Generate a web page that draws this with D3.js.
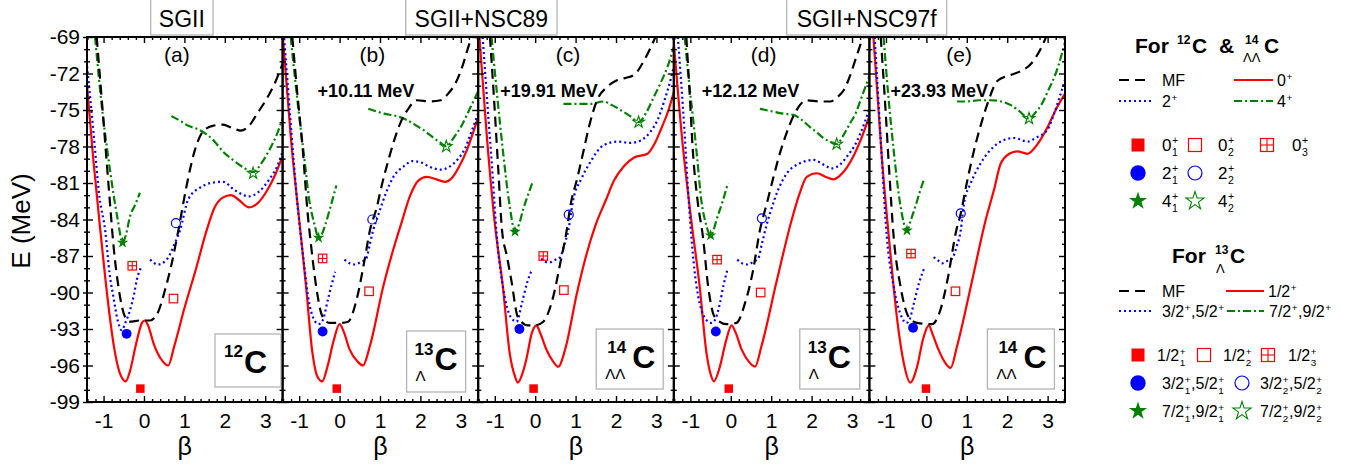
<!DOCTYPE html>
<html>
<head>
<meta charset="utf-8">
<script src="https://cdn.jsdelivr.net/npm/d3@7"></script>
<style>
  body { margin: 0; background: #fff; }
  svg { display: block; font-family: "Liberation Sans", Arial, sans-serif; }
</style>
</head>
<body>
<div id="chart"></div>
<script>
// ---- data ----
var betaTicks = [-1, 0, 1, 2, 3];
var energyTicks = [-99, -96, -93, -90, -87, -84, -81, -78, -75, -72, -69];
var panelTags = ["(a)", "(b)", "(c)", "(d)", "(e)"];
var shiftLabels = ["", "+10.11 MeV", "+19.91 MeV", "+12.12 MeV", "+23.93 MeV"];
var nucleusMass = ["12", "13", "14", "13", "14"];
var nucleusHyp = ["", "Λ", "ΛΛ", "Λ", "ΛΛ"];
var interactionNames = ["SGII", "SGII+NSC89", "SGII+NSC97f"];

// MF (black dashed)
var mfA = [[-1.17,-69],[-1.0,-76],[-0.85,-82.3],[-0.75,-86.3],[-0.62,-89.8],[-0.47,-92.0],[-0.35,-92.4],[-0.1,-92.3],[0.15,-92.3],[0.35,-91.6],[0.52,-89.8],[0.68,-87.7],[0.85,-84.9],[1.05,-81.3],[1.25,-78.4],[1.45,-76.8],[1.7,-76.3],[1.95,-76.2],[2.2,-76.5],[2.4,-76.7],[2.6,-76.3],[2.8,-75.3],[3.05,-74.0],[3.25,-72.7],[3.45,-71.0]];
var mfB = [[-1.17,-69],[-1.05,-73.5],[-0.91,-78.3],[-0.79,-83.5],[-0.71,-86.0],[-0.58,-89.5],[-0.42,-92.0],[-0.25,-92.5],[0.0,-92.5],[0.21,-92.4],[0.42,-90.6],[0.62,-87.3],[0.75,-84.9],[0.92,-83.0],[1.05,-81.1],[1.21,-79.1],[1.35,-77.5],[1.5,-76.1],[1.7,-74.9],[1.91,-74.2],[2.25,-74.3],[2.5,-74.2],[2.7,-73.6],[2.87,-72.8],[3.05,-71.3],[3.16,-70.1],[3.3,-68.6]];
var mfC = [[-1.12,-69],[-1.02,-74],[-0.92,-79.5],[-0.82,-84.9],[-0.7,-87.0],[-0.59,-89.0],[-0.43,-92.0],[-0.18,-92.7],[0.0,-92.7],[0.2,-92.4],[0.45,-90.3],[0.62,-87.6],[0.78,-84.9],[0.87,-82.9],[1.05,-80.5],[1.2,-78.3],[1.36,-76.0],[1.53,-74.2],[1.78,-73.1],[2.0,-72.6],[2.2,-72.4],[2.45,-72.1],[2.7,-70.9],[2.95,-69.2],[3.02,-68.7]];
var mfD = [[-1.1,-69],[-1.02,-73.5],[-0.94,-78.3],[-0.82,-82.5],[-0.69,-85.4],[-0.56,-89.5],[-0.4,-92.0],[-0.11,-92.6],[0.14,-92.5],[0.35,-90.9],[0.55,-88.2],[0.72,-84.9],[0.89,-82.7],[1.05,-80.6],[1.22,-78.5],[1.38,-76.9],[1.55,-75.5],[1.88,-74.2],[2.2,-74.3],[2.46,-74.3],[2.65,-73.9],[2.79,-73.4],[2.95,-72.2],[3.08,-70.9],[3.25,-69.2],[3.3,-68.7]];
var mfE = [[-1.13,-69],[-1.02,-74.5],[-0.92,-80],[-0.81,-85.4],[-0.64,-89.5],[-0.44,-92.0],[-0.23,-92.5],[0.14,-92.6],[0.35,-91.4],[0.52,-89.0],[0.74,-84.9],[0.85,-83.5],[1.0,-81.0],[1.18,-78.3],[1.35,-76.2],[1.51,-74.5],[1.76,-72.6],[2.1,-72.1],[2.34,-71.8],[2.59,-71.2],[2.84,-69.9],[3.0,-68.7]];

// 0+ / 1/2+ (red solid)
var j0A = [[-1.42,-72.6],[-1.25,-79.2],[-1.08,-84.9],[-0.9,-90.5],[-0.75,-94.3],[-0.6,-96.6],[-0.45,-97.3],[-0.35,-96.5],[-0.2,-94.3],[-0.05,-92.5],[0.02,-92.3],[0.1,-92.7],[0.25,-94.3],[0.45,-95.6],[0.6,-96.0],[0.75,-94.4],[1.0,-91.3],[1.3,-87.9],[1.55,-84.9],[1.75,-83.0],[1.95,-82.2],[2.15,-82.0],[2.35,-82.4],[2.6,-83.0],[2.8,-82.7],[3.05,-81.6],[3.25,-80.3],[3.45,-78.6]];
var j0B = [[-1.41,-68.8],[-1.2,-77.5],[-1.0,-84.0],[-0.83,-89.5],[-0.67,-95.0],[-0.55,-96.9],[-0.43,-97.3],[-0.3,-96.1],[-0.15,-94.0],[0.0,-92.6],[0.1,-93.2],[0.25,-94.7],[0.45,-95.7],[0.58,-96.0],[0.75,-94.4],[1.08,-89.5],[1.3,-86.8],[1.52,-84.4],[1.75,-82.0],[1.95,-80.8],[2.16,-80.5],[2.4,-80.7],[2.6,-80.9],[2.8,-80.5],[2.95,-79.7],[3.15,-78.3],[3.3,-76.9],[3.46,-75.3]];
var j0C = [[-1.38,-69],[-1.2,-77],[-1.01,-84.0],[-0.8,-89.5],[-0.63,-95.0],[-0.5,-96.9],[-0.43,-97.4],[-0.3,-96.5],[-0.22,-95.5],[-0.08,-93.3],[0.03,-92.7],[0.12,-93.3],[0.28,-94.7],[0.45,-95.7],[0.57,-96.1],[0.74,-94.7],[1.03,-90.1],[1.25,-87.1],[1.5,-84.4],[1.75,-82.4],[1.95,-80.8],[2.2,-79.6],[2.45,-78.9],[2.78,-78.6],[2.95,-77.8],[3.11,-76.6],[3.3,-75.0],[3.45,-73.3]];
var j0D = [[-1.42,-69],[-1.2,-77.5],[-0.98,-84.0],[-0.77,-89.5],[-0.6,-95.0],[-0.5,-96.7],[-0.42,-97.3],[-0.27,-96.1],[-0.12,-94.0],[0.02,-92.7],[0.12,-93.3],[0.27,-94.7],[0.45,-95.7],[0.6,-96.1],[0.76,-94.4],[1.14,-89.0],[1.51,-84.0],[1.7,-81.9],[1.88,-80.5],[2.13,-80.2],[2.35,-80.5],[2.54,-80.7],[2.7,-80.4],[2.88,-79.7],[3.05,-78.7],[3.21,-77.5],[3.44,-75.4]];
var j0E = [[-1.31,-69],[-1.1,-79],[-0.89,-86.8],[-0.72,-92.3],[-0.56,-95.8],[-0.4,-97.4],[-0.23,-96.1],[-0.08,-93.8],[0.06,-92.7],[0.15,-93.4],[0.3,-94.7],[0.45,-95.7],[0.6,-96.2],[0.76,-94.4],[1.1,-89.5],[1.47,-84.0],[1.67,-81.6],[1.84,-79.4],[2.05,-78.6],[2.25,-78.4],[2.5,-78.6],[2.75,-77.8],[3.0,-76.4],[3.2,-75.0],[3.46,-73.5]];

// 2+ / 3/2+,5/2+ (blue dotted), two branches
var j2A = [
  [[-1.42,-71.0],[-1.25,-76.8],[-1.1,-82.2],[-0.96,-84.9],[-0.85,-88.5],[-0.76,-90.3],[-0.65,-92.3],[-0.55,-93.1],[-0.45,-92.4],[-0.35,-91.5],[-0.25,-90.2],[-0.18,-89.0],[-0.07,-87.9]],
  [[0.15,-87.3],[0.35,-87.7],[0.56,-87.3],[0.77,-85.9],[0.89,-84.9],[1.1,-82.3],[1.38,-81.4],[1.65,-81.0],[1.95,-80.9],[2.25,-81.6],[2.6,-82.1],[2.85,-81.7],[3.1,-80.7],[3.3,-79.6],[3.45,-78.2]]
];
var j2B = [
  [[-1.37,-69.1],[-1.2,-76.5],[-1.05,-82.5],[-0.91,-86.8],[-0.75,-90.9],[-0.62,-92.3],[-0.52,-92.6],[-0.42,-92.3],[-0.29,-90.6],[-0.2,-89.4],[-0.11,-88.3]],
  [[0.12,-87.3],[0.25,-87.6],[0.37,-87.7],[0.52,-87.5],[0.66,-87.2],[0.75,-86.0],[0.83,-84.9],[0.96,-83.6],[1.15,-81.8],[1.33,-80.5],[1.6,-79.6],[1.8,-79.2],[2.0,-79.3],[2.25,-79.7],[2.5,-79.9],[2.7,-79.7],[2.91,-79.1],[3.1,-78.2],[3.25,-76.9],[3.46,-75.0]]
];
var j2C = [
  [[-1.3,-69],[-1.15,-76],[-1.05,-80.5],[-0.96,-85.0],[-0.8,-89.5],[-0.69,-91.3],[-0.59,-92.1],[-0.46,-92.4],[-0.33,-90.9],[-0.2,-89.2],[-0.09,-88.2]],
  [[0.15,-87.2],[0.27,-87.5],[0.37,-87.5],[0.5,-87.3],[0.62,-87.1],[0.72,-86.1],[0.82,-84.9],[0.94,-82.4],[1.15,-80.6],[1.36,-79.3],[1.69,-77.9],[2.03,-77.6],[2.36,-77.7],[2.61,-77.5],[2.85,-76.8],[3.03,-75.8],[3.2,-74.2],[3.36,-72.4],[3.45,-71.2]]
];
var j2D = [
  [[-1.31,-69],[-1.15,-76.5],[-1.04,-82.5],[-0.94,-86.8],[-0.77,-90.9],[-0.56,-92.4],[-0.48,-92.5],[-0.4,-92.3],[-0.27,-90.9],[-0.18,-89.4],[-0.09,-88.2]],
  [[0.16,-87.3],[0.28,-87.6],[0.41,-87.7],[0.55,-87.5],[0.68,-87.2],[0.77,-86.0],[0.85,-84.9],[0.97,-83.5],[1.18,-81.5],[1.39,-80.2],[1.7,-79.4],[2.05,-79.1],[2.3,-79.5],[2.5,-79.8],[2.7,-79.5],[2.88,-78.8],[3.05,-78.0],[3.21,-76.9],[3.44,-74.8]]
];
var j2E = [
  [[-1.28,-69],[-1.12,-78],[-0.98,-85.4],[-0.81,-89.5],[-0.6,-92.1],[-0.5,-92.5],[-0.44,-92.4],[-0.31,-90.9],[-0.18,-89.2],[-0.04,-87.9]],
  [[0.18,-87.1],[0.3,-87.4],[0.39,-87.6],[0.52,-87.4],[0.64,-87.2],[0.75,-86.2],[0.85,-84.9],[0.93,-82.7],[1.1,-81.0],[1.34,-79.4],[1.67,-78.0],[1.9,-77.5],[2.17,-77.3],[2.5,-77.6],[2.7,-77.3],[3.0,-76.6],[3.15,-75.4],[3.3,-73.9],[3.45,-72.3]]
];

// 4+ / 7/2+,9/2+ (green dash-dot), two branches
var j4A = [
  [[-1.21,-69],[-1.05,-74.5],[-0.9,-78.5],[-0.76,-81.8],[-0.65,-84.0],[-0.53,-85.9],[-0.45,-85.3],[-0.35,-83.8],[-0.22,-82.8],[-0.1,-81.8]],
  [[0.68,-75.5],[0.9,-75.9],[1.1,-76.3],[1.35,-76.6],[1.55,-77.0],[1.75,-77.6],[1.95,-78.4],[2.2,-79.1],[2.45,-79.7],[2.7,-80.1],[2.9,-79.4],[3.1,-78.3],[3.3,-76.9],[3.45,-75.5]]
];
var j4B = [
  [[-1.21,-69],[-1.1,-72.5],[-1.0,-75.5],[-0.87,-79],[-0.75,-82.4],[-0.62,-84.4],[-0.52,-85.5],[-0.45,-85.3],[-0.37,-84.6],[-0.22,-82.9],[-0.08,-81.2]],
  [[0.71,-74.9],[0.9,-75.1],[1.1,-75.3],[1.41,-75.5],[1.65,-75.8],[1.91,-76.3],[2.1,-76.7],[2.33,-77.3],[2.5,-77.7],[2.64,-78.0],[2.82,-77.3],[3.0,-76.4],[3.25,-74.7],[3.45,-73.3]]
];
var j4C = [
  [[-1.08,-69],[-0.95,-73.5],[-0.8,-78.3],[-0.63,-82.9],[-0.5,-85.0],[-0.4,-84.4],[-0.3,-83.2],[-0.18,-82.0],[-0.05,-80.8]],
  [[0.7,-74.5],[1.0,-74.5],[1.36,-74.5],[1.69,-74.3],[1.9,-74.6],[2.11,-75.0],[2.35,-75.5],[2.56,-76.0],[2.75,-75.2],[2.94,-73.9],[3.1,-72.8],[3.28,-71.4],[3.44,-69.7]]
];
var j4D = [
  [[-1.14,-69],[-1.04,-72.5],[-0.94,-75.5],[-0.83,-79],[-0.73,-82.4],[-0.62,-84.3],[-0.5,-85.3],[-0.42,-84.8],[-0.35,-84.0],[-0.2,-82.5],[-0.07,-81.0]],
  [[0.72,-74.9],[1.0,-75.1],[1.3,-75.3],[1.55,-75.4],[1.75,-75.8],[1.96,-76.4],[2.15,-76.9],[2.29,-77.3],[2.45,-77.6],[2.62,-77.8],[2.8,-77.0],[2.95,-76.1],[3.1,-75.2],[3.21,-74.2],[3.44,-72.1]]
];
var j4E = [
  [[-1.06,-69],[-0.95,-73.5],[-0.81,-78.3],[-0.64,-82.9],[-0.48,-84.9],[-0.38,-84.0],[-0.27,-82.9],[-0.17,-81.8],[-0.07,-80.8]],
  [[0.76,-74.3],[1.0,-74.3],[1.3,-74.2],[1.59,-74.2],[1.85,-74.3],[2.09,-74.6],[2.3,-75.1],[2.54,-75.7],[2.7,-75.2],[2.84,-74.6],[3.0,-73.5],[3.2,-72.0],[3.45,-69.2]]
];

// GCM states: [type, beta, E]
var statesA = [["sq1",-0.09,-97.9],["sq2",0.73,-90.5],["sq3",-0.29,-87.8],["c1",-0.43,-93.4],["c2",0.79,-84.3],["s1",-0.53,-85.9],["s2",2.70,-80.2]];
var statesB = [["sq1",-0.07,-97.9],["sq2",0.73,-89.9],["sq3",-0.42,-87.2],["c1",-0.42,-93.2],["c2",0.81,-84.0],["s1",-0.52,-85.5],["s2",2.64,-78.0]];
var statesC = [["sq1",-0.04,-97.9],["sq2",0.71,-89.8],["sq3",0.20,-87.0],["c1",-0.39,-93.0],["c2",0.83,-83.6],["s1",-0.50,-85.0],["s2",2.56,-76.0]];
var statesD = [["sq1",-0.05,-97.9],["sq2",0.74,-90.0],["sq3",-0.34,-87.3],["c1",-0.37,-93.2],["c2",0.77,-83.9],["s1",-0.50,-85.3],["s2",2.62,-77.8]];
var statesE = [["sq1",-0.01,-97.9],["sq2",0.72,-89.9],["sq3",-0.38,-86.8],["c1",-0.33,-92.9],["c2",0.85,-83.5],["s1",-0.48,-84.9],["s2",2.54,-75.7]];

var mfCurves = [mfA, mfB, mfC, mfD, mfE];
var j0Curves = [j0A, j0B, j0C, j0D, j0E];
var j2Curves = [j2A, j2B, j2C, j2D, j2E];
var j4Curves = [j4A, j4B, j4C, j4D, j4E];
var stateSets = [statesA, statesB, statesC, statesD, statesE];

// legend texts
var legendLines1 = [["MF"], ["0", {sup: "+"}], ["2", {sup: "+"}], ["4", {sup: "+"}]];
var legendLines2 = [["MF"], ["1/2", {sup: "+"}], ["3/2", {sup: "+"}, ",5/2", {sup: "+"}], ["7/2", {sup: "+"}, ",9/2", {sup: "+"}]];
var stateTypes = ["sq1", "sq2", "sq3", "c1", "c2", "s1", "s2"];
var stateLabels1 = [["0", {sup: "+", sub: "1"}], ["0", {sup: "+", sub: "2"}], ["0", {sup: "+", sub: "3"}],
  ["2", {sup: "+", sub: "1"}], ["2", {sup: "+", sub: "2"}], ["4", {sup: "+", sub: "1"}], ["4", {sup: "+", sub: "2"}]];
var stateLabels2 = [["1/2", {sup: "+", sub: "1"}], ["1/2", {sup: "+", sub: "2"}], ["1/2", {sup: "+", sub: "3"}],
  ["3/2", {sup: "+", sub: "1"}, ",5/2", {sup: "+", sub: "1"}], ["3/2", {sup: "+", sub: "2"}, ",5/2", {sup: "+", sub: "2"}],
  ["7/2", {sup: "+", sub: "1"}, ",9/2", {sup: "+", sub: "1"}], ["7/2", {sup: "+", sub: "2"}, ",9/2", {sup: "+", sub: "2"}]];

// ---- layout ----
var svgWidth = 1356;
var svgHeight = 469;
var plotTop = 37, plotBottom = 402;
var panelLeft0 = 87, panelWidth = 195.6;
var RED = "#ff0000", BLUE = "#0000ff", GREEN = "#008000";

var styles = {
  mf: {color: "#000", dash: "10,6", width: 2.2},
  j0: {color: RED, dash: null, width: 2.2},
  j2: {color: BLUE, dash: "2,3", width: 2.2},
  j4: {color: GREEN, dash: "8,3,2,3", width: 2.2}
};

// box of the nucleus label, relative to each panel: [dx, top, w, h]
var nucleusBoxes = [[128, 334, 66, 53], [124, 331, 59, 61], [118, 329, 67, 60], [126, 329, 60, 60], [118, 329, 67, 60]];
var shiftOffsets = [0, 35, 22, 28, 21];

var svg = d3.select("#chart").append("svg")
  .attr("width", svgWidth)
  .attr("height", svgHeight);

var yScale = d3.scaleLinear().domain([-99, -69]).range([plotBottom, plotTop]);

function richText(g, x, y, parts, size, weight) {
  var cx = x;
  parts.forEach(function(p) {
    if (typeof p === "string") {
      var t = g.append("text").attr("x", cx).attr("y", y)
        .style("font-size", size + "px").style("font-weight", weight || "normal").text(p);
      cx += t.node().getComputedTextLength();
    } else {
      var w = 0;
      var ss = size * 0.62;
      if (p.sup) {
        var t1 = g.append("text").attr("x", cx + 0.5).attr("y", y - size * 0.4)
          .style("font-size", ss + "px").text(p.sup);
        w = Math.max(w, t1.node().getComputedTextLength());
      }
      if (p.sub) {
        var t2 = g.append("text").attr("x", cx + 0.5).attr("y", y + size * 0.3)
          .style("font-size", ss + "px").text(p.sub);
        w = Math.max(w, t2.node().getComputedTextLength());
      }
      cx += w + 1;
    }
  });
  return cx;
}

function drawState(g, type, cx, cy, s) {
  if (type.indexOf("sq") === 0) {
    var filled = type === "sq1";
    g.append("rect")
      .attr("x", cx - s / 2).attr("y", cy - s / 2)
      .attr("width", s).attr("height", s)
      .attr("fill", filled ? RED : "none")
      .attr("stroke", filled ? "none" : RED)
      .attr("stroke-width", 1.2);
    if (type === "sq3") {
      g.append("line").attr("x1", cx - s / 2).attr("x2", cx + s / 2).attr("y1", cy).attr("y2", cy)
        .attr("stroke", RED).attr("stroke-width", 1.1);
      g.append("line").attr("x1", cx).attr("x2", cx).attr("y1", cy - s / 2).attr("y2", cy + s / 2)
        .attr("stroke", RED).attr("stroke-width", 1.1);
    }
  } else if (type.indexOf("c") === 0) {
    var fc = type === "c1";
    g.append("circle").attr("cx", cx).attr("cy", cy)
      .attr("r", fc ? s * 0.55 : s * 0.5)
      .attr("fill", fc ? BLUE : "none")
      .attr("stroke", BLUE)
      .attr("stroke-width", fc ? 0 : 1.2);
  } else {
    var fs = type === "s1";
    var R = s * 0.68;
    g.append("path")
      .attr("transform", "translate(" + cx + "," + cy + ")")
      .attr("d", d3.symbol(d3.symbolStar, R * R / 0.8908)())
      .attr("fill", fs ? GREEN : "none")
      .attr("stroke", GREEN)
      .attr("stroke-width", fs ? 0 : 1.1);
  }
}

// ---- panels ----
mfCurves.forEach(function(mf, i) {
  var left = panelLeft0 + i * panelWidth;
  var right = left + panelWidth;
  var xScale = d3.scaleLinear().domain([-1.41, 3.43]).range([left, right]);
  var g = svg.append("g");

  var clipId = "clip" + i;
  svg.append("clipPath").attr("id", clipId).append("rect")
    .attr("x", left).attr("y", plotTop).attr("width", panelWidth).attr("height", plotBottom - plotTop);

  var line = d3.line()
    .x(function(d) { return xScale(d[0]); })
    .y(function(d) { return yScale(d[1]); })
    .curve(d3.curveMonotoneX);

  var curves = g.append("g").attr("clip-path", "url(#" + clipId + ")");

  function addPath(data, st) {
    curves.append("path")
      .attr("d", line(data))
      .attr("fill", "none")
      .attr("stroke", st.color)
      .attr("stroke-width", st.width)
      .attr("stroke-dasharray", st.dash);
  }
  addPath(j0Curves[i], styles.j0);
  j2Curves[i].forEach(function(b) { addPath(b, styles.j2); });
  j4Curves[i].forEach(function(b) { addPath(b, styles.j4); });
  addPath(mf, styles.mf);

  stateSets[i].forEach(function(st) {
    var sz = st[0].indexOf("sq") === 0 ? 8.5 : 9;
    drawState(g, st[0], xScale(st[1]), yScale(st[2]), sz);
  });

  // axes
  var minorX = d3.range(-1.4, 3.41, 0.2).map(function(v) { return +v.toFixed(1); })
    .filter(function(v) { return betaTicks.indexOf(v) < 0; });
  var minorY = d3.range(-99, -68, 1).filter(function(v) { return energyTicks.indexOf(v) < 0; });

  g.append("g").attr("transform", "translate(0," + plotBottom + ")")
    .call(d3.axisBottom(xScale).tickValues(betaTicks).tickSizeInner(-6).tickSizeOuter(0).tickPadding(11)
      .tickFormat(function(d) { return String(d); }));
  g.append("g").attr("transform", "translate(0," + plotBottom + ")")
    .call(d3.axisBottom(xScale).tickValues(minorX).tickSizeInner(-3).tickSizeOuter(0).tickFormat(""));
  g.append("g").attr("transform", "translate(0," + plotTop + ")")
    .call(d3.axisTop(xScale).tickValues(betaTicks).tickSizeInner(-6).tickSizeOuter(0).tickFormat(""));
  g.append("g").attr("transform", "translate(0," + plotTop + ")")
    .call(d3.axisTop(xScale).tickValues(minorX).tickSizeInner(-3).tickSizeOuter(0).tickFormat(""));
  g.append("g").attr("transform", "translate(" + left + ",0)")
    .call(d3.axisLeft(yScale).tickValues(energyTicks).tickSizeInner(-6).tickSizeOuter(0).tickFormat(""));
  g.append("g").attr("transform", "translate(" + left + ",0)")
    .call(d3.axisLeft(yScale).tickValues(minorY).tickSizeInner(-3).tickSizeOuter(0).tickFormat(""));
  g.append("g").attr("transform", "translate(" + right + ",0)")
    .call(d3.axisRight(yScale).tickValues(energyTicks).tickSizeInner(-6).tickSizeOuter(0).tickFormat(""));
  g.append("g").attr("transform", "translate(" + right + ",0)")
    .call(d3.axisRight(yScale).tickValues(minorY).tickSizeInner(-3).tickSizeOuter(0).tickFormat(""));

  if (i === 0) {
    g.append("g").attr("transform", "translate(" + left + ",0)")
      .call(d3.axisLeft(yScale).tickValues(energyTicks).tickSizeInner(4).tickSizeOuter(0).tickPadding(3)
        .tickFormat(function(d) { return String(d); }));
    g.append("g").attr("transform", "translate(" + left + ",0)")
      .call(d3.axisLeft(yScale).tickValues(minorY).tickSizeInner(3).tickSizeOuter(0).tickFormat(""));
  }

  g.selectAll(".domain").remove();
  g.selectAll(".tick line").attr("stroke", "#000").attr("stroke-width", 1.4);
  g.selectAll(".tick text").attr("fill", "#000").style("font-size", "21px")
    .style("font-family", "'Liberation Sans', Arial, sans-serif");

  g.append("rect")
    .attr("x", left).attr("y", plotTop)
    .attr("width", panelWidth).attr("height", plotBottom - plotTop)
    .attr("fill", "none").attr("stroke", "#000").attr("stroke-width", 2);

  // x title
  g.append("text")
    .attr("x", (left + right) / 2).attr("y", 455)
    .attr("text-anchor", "middle")
    .style("font-size", "25px")
    .text("β");

  // panel tag
  g.append("text")
    .attr("x", (left + right) / 2 - 8).attr("y", 62)
    .attr("text-anchor", "middle")
    .style("font-size", "21px")
    .text(panelTags[i]);

  if (shiftLabels[i]) {
    g.append("text")
      .attr("x", left + shiftOffsets[i]).attr("y", 97)
      .style("font-size", "18px").style("font-weight", "bold")
      .text(shiftLabels[i]);
  }

  // nucleus label box
  var nb = nucleusBoxes[i];
  var bx = left + nb[0], by = nb[1];
  g.append("rect").attr("x", bx).attr("y", by).attr("width", nb[2]).attr("height", nb[3])
    .attr("fill", "#fff").attr("stroke", "#b4b4b4").attr("stroke-width", 1.3);
  var hyp = nucleusHyp[i];
  if (!hyp) {
    g.append("text").attr("x", bx + 9).attr("y", by + 23)
      .style("font-size", "17px").style("font-weight", "bold").text(nucleusMass[i]);
    g.append("text").attr("x", bx + 29).attr("y", by + 39)
      .style("font-size", "32px").style("font-weight", "bold").text("C");
  } else {
    var dbl = hyp.length === 2;
    g.append("text").attr("x", bx + (dbl ? 11 : 8)).attr("y", by + 24)
      .style("font-size", "17px").style("font-weight", "bold").text(nucleusMass[i]);
    g.append("text").attr("x", bx + 9).attr("y", by + 50)
      .style("font-size", "15px").text(hyp);
    g.append("text").attr("x", bx + (dbl ? 36 : 28)).attr("y", by + 39)
      .style("font-size", "32px").style("font-weight", "bold").text("C");
  }
});

// interaction title boxes
var titleBoxes = [[150.7, 62.3], [405.7, 151.3], [786.7, 160]];
interactionNames.forEach(function(name, k) {
  var tb = titleBoxes[k];
  svg.append("rect").attr("x", tb[0]).attr("y", -2).attr("width", tb[1]).attr("height", 37)
    .attr("fill", "#fff").attr("stroke", "#b4b4b4").attr("stroke-width", 1.3);
  svg.append("text").attr("x", tb[0] + tb[1] / 2).attr("y", 27)
    .attr("text-anchor", "middle").style("font-size", "23px").text(name);
});

// y title
svg.append("text")
  .attr("transform", "translate(30,221) rotate(-90)")
  .attr("text-anchor", "middle")
  .style("font-size", "26px")
  .text("E (MeV)");

// ---- legends ----
var lg = svg.append("g");

function boldText(x, y, size, txt) {
  return lg.append("text").attr("x", x).attr("y", y)
    .style("font-size", size + "px").style("font-weight", "bold").text(txt);
}

// title 1: For 12C & 14ΛΛC
boldText(1135, 53, 21, "For");
boldText(1177, 44, 12, "12");
boldText(1192, 53, 21, "C");
boldText(1219, 53, 21, "&");
boldText(1245, 44, 12, "14");
lg.append("text").attr("x", 1243).attr("y", 62).style("font-size", "13px").text("ΛΛ");
boldText(1264, 53, 21, "C");

// title 2: For 13ΛC
boldText(1172, 263, 21, "For");
boldText(1215, 254, 12, "13");
lg.append("text").attr("x", 1216).attr("y", 273).style("font-size", "13px").text("Λ");
boldText(1230, 263, 21, "C");

var lineKeys = ["mf", "j0", "j2", "j4"];
function legendLines(labels, rowY, xs) {
  // xs: [x1, x2, labelX] per legend item
  lineKeys.forEach(function(k, idx) {
    var c = xs[idx];
    var y = rowY[Math.floor(idx / 2)];
    var st = styles[k];
    lg.append("line").attr("x1", c[0]).attr("x2", c[1]).attr("y1", y).attr("y2", y)
      .attr("stroke", st.color).attr("stroke-width", st.width).attr("stroke-dasharray", st.dash);
    richText(lg, c[2], y + 6, labels[idx], 16);
  });
}
legendLines(legendLines1, [80, 101], [[1119, 1150, 1162], [1234, 1273, 1277], [1119, 1154, 1162], [1234, 1273, 1277]]);
legendLines(legendLines2, [291, 311], [[1119, 1150, 1162], [1226, 1264, 1268], [1119, 1154, 1162], [1227, 1264, 1269]]);

// symbol rows: [symbolX, labelX, rowY]
var symPos1 = [[1138, 1162, 145], [1195, 1218, 145], [1267, 1292, 145], [1138, 1162, 173], [1195, 1218, 173], [1138, 1162, 201], [1195, 1218, 201]];
var symPos2 = [[1138, 1157, 355], [1204, 1223, 355], [1268, 1288, 355], [1138, 1162, 383], [1242, 1260, 383], [1138, 1162, 411], [1242, 1260, 411]];

stateTypes.forEach(function(tp, k) {
  var p1 = symPos1[k];
  drawState(lg, tp, p1[0], p1[2], tp.indexOf("sq") === 0 ? 13 : 14);
  richText(lg, p1[1], p1[2] + 6, stateLabels1[k], 17);
  var p2 = symPos2[k];
  drawState(lg, tp, p2[0], p2[2], tp.indexOf("sq") === 0 ? 13 : 14);
  richText(lg, p2[1], p2[2] + 6, stateLabels2[k], 16);
});
</script>
</body>
</html>
